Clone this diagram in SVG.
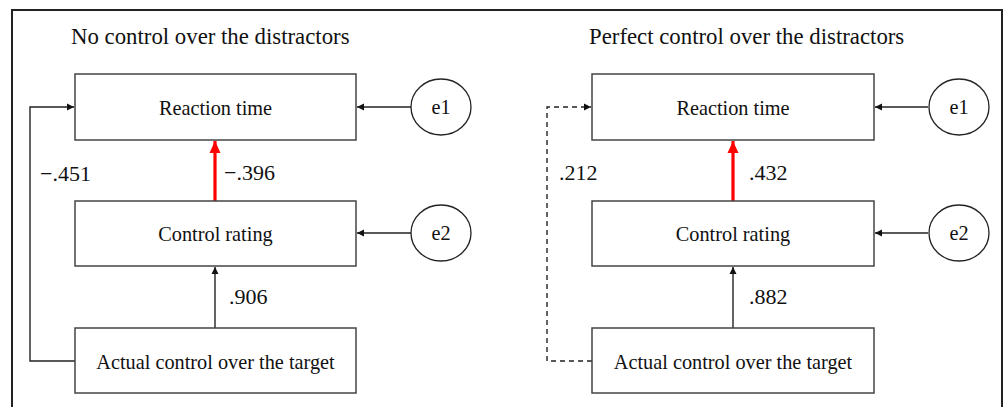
<svg xmlns="http://www.w3.org/2000/svg" width="1003" height="407" viewBox="0 0 1003 407">
<style>
.frame{fill:none;stroke:#222;stroke-width:2}
.box{fill:#fff;stroke:#444;stroke-width:1.5}
.circ{fill:#fff;stroke:#222;stroke-width:1.3}
.t{font-family:"Liberation Serif","Times New Roman",serif;fill:#111}
.node{font-size:20.3px;text-anchor:middle}
.title{font-size:22.8px}
.num{font-size:22px}
.ln{fill:none;stroke:#222;stroke-width:1.4}
.dash{stroke-dasharray:5,4}
.red{fill:none;stroke:#f00;stroke-width:3.2}
</style>
<defs>
<marker id="ah" markerWidth="8" markerHeight="8" refX="7" refY="4" orient="auto" markerUnits="userSpaceOnUse">
<path d="M0,0.5 L7,4 L0,7.5 Z" fill="#111"/>
</marker>
<marker id="rh" markerWidth="12" markerHeight="14" refX="12" refY="6" orient="auto" markerUnits="userSpaceOnUse">
<path d="M0,0.5 L12,6 L0,11.5 Z" fill="#f00"/>
</marker>
</defs>
<rect class="frame" x="12" y="10" width="990" height="420"/>
<text class="t title" x="71" y="44">No control over the distractors</text>
<text class="t title" x="589" y="44">Perfect control over the distractors</text>
<g id="connectors">
<polyline class="ln" points="75,361 30,361 30,107 74,107" marker-end="url(#ah)"/>
<line class="ln" x1="411" y1="107" x2="357" y2="107" marker-end="url(#ah)"/>
<line class="ln" x1="411" y1="233" x2="357" y2="233" marker-end="url(#ah)"/>
<line class="red" x1="215" y1="201" x2="215" y2="141" marker-end="url(#rh)"/>
<line class="ln" x1="215" y1="328" x2="215" y2="267" marker-end="url(#ah)"/>
<polyline class="ln dash" points="592,361 547,361 547,107 591,107" marker-end="url(#ah)"/>
<line class="ln" x1="928" y1="107" x2="875" y2="107" marker-end="url(#ah)"/>
<line class="ln" x1="928" y1="233" x2="875" y2="233" marker-end="url(#ah)"/>
<line class="red" x1="733" y1="201" x2="733" y2="141" marker-end="url(#rh)"/>
<line class="ln" x1="733" y1="328" x2="733" y2="267" marker-end="url(#ah)"/>
<text class="t num" x="40" y="181">−.451</text>
<text class="t num" x="224" y="180">−.396</text>
<text class="t num" x="229" y="304">.906</text>
<text class="t num" x="559" y="180">.212</text>
<text class="t num" x="749" y="180">.432</text>
<text class="t num" x="749" y="304">.882</text>
</g>
<g id="L-rt"><rect class="box" x="75" y="74" width="281" height="66"/><text class="t node" x="215.5" y="115">Reaction time</text></g>
<g id="L-cr"><rect class="box" x="75" y="201" width="281" height="65"/><text class="t node" x="215.5" y="241">Control rating</text></g>
<g id="L-ac"><rect class="box" x="75" y="328" width="281" height="65"/><text class="t node" x="215.5" y="369">Actual control over the target</text></g>
<g id="L-e1"><ellipse class="circ" cx="441" cy="107" rx="30" ry="28"/><text class="t node" x="441" y="114">e1</text></g>
<g id="L-e2"><ellipse class="circ" cx="441" cy="233" rx="30" ry="28"/><text class="t node" x="441" y="240">e2</text></g>
<g id="R-rt"><rect class="box" x="592" y="74" width="282" height="66"/><text class="t node" x="733" y="115">Reaction time</text></g>
<g id="R-cr"><rect class="box" x="592" y="201" width="282" height="65"/><text class="t node" x="733" y="241">Control rating</text></g>
<g id="R-ac"><rect class="box" x="592" y="328" width="282" height="65"/><text class="t node" x="733" y="369">Actual control over the target</text></g>
<g id="R-e1"><ellipse class="circ" cx="959" cy="107" rx="30" ry="28"/><text class="t node" x="959" y="114">e1</text></g>
<g id="R-e2"><ellipse class="circ" cx="959" cy="233" rx="30" ry="28"/><text class="t node" x="959" y="240">e2</text></g>
</svg>
